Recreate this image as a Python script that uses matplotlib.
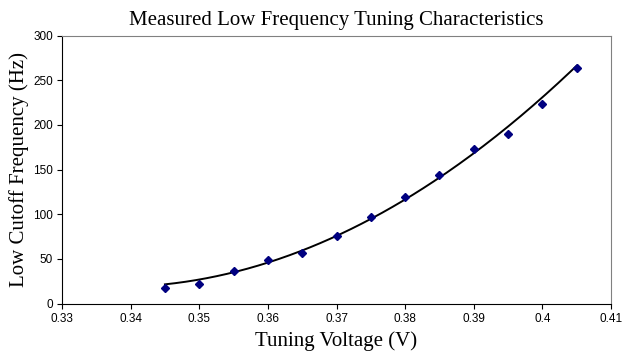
import numpy as np
import matplotlib.pyplot as plt

voltage = [0.345, 0.35, 0.355, 0.36, 0.365, 0.37, 0.375, 0.38, 0.385, 0.39, 0.395, 0.40, 0.405]
freq = [17, 21.5, 36, 48.5, 57, 76, 97, 119.5, 144.5, 173, 190, 223.5, 263.5]

# trendline
trend_freq = [23, 28, 35, 45, 55.5, 73, 95, 117, 142, 172, 202, 231, 262]

xticks = [0.33, 0.34, 0.35, 0.36, 0.37, 0.38, 0.39, 0.4, 0.41]
xticklabels = ['0.33', '0.34', '0.35', '0.36', '0.37', '0.38', '0.39', '0.4', '0.41']
yticks = [0, 50, 100, 150, 200, 250, 300]

# smooth polynomial through the read trendline values
coef = np.polyfit(voltage, trend_freq, 2)
xs = np.linspace(voltage[0], voltage[-1], 200)
ys = np.polyval(coef, xs)

fig = plt.figure(figsize=(6.23, 3.58), dpi=100)
ax = fig.add_axes([62 / 623, (358 - 303.5) / 358, 549 / 623, 267.8 / 358])

ax.plot(xs, ys, color='black', lw=1.4, zorder=2)
ax.plot(voltage, freq, linestyle='none', marker='D', markersize=3.8,
        color='#000080', zorder=3)

ax.set_xlim(0.33, 0.41)
ax.set_ylim(0, 300)
ax.set_xticks(xticks)
ax.set_xticklabels(xticklabels)
ax.set_yticks(yticks)
ax.tick_params(direction='out', length=3.5, width=0.8, labelsize=8.5, pad=3)
for lab in ax.get_xticklabels() + ax.get_yticklabels():
    lab.set_family('Liberation Sans')

ax.spines['top'].set_color('#808080')
ax.spines['right'].set_color('#808080')
ax.spines['left'].set_color('black')
ax.spines['bottom'].set_color('black')

ax.set_title('Measured Low Frequency Tuning Characteristics',
             family='Liberation Serif', fontsize=15, pad=7.5)
ax.set_xlabel('Tuning Voltage (V)', family='Liberation Serif', fontsize=15, labelpad=5)
ax.set_ylabel('Low Cutoff Frequency (Hz)', family='Liberation Serif', fontsize=15, labelpad=3)

fig.savefig('out.png', dpi=100)
